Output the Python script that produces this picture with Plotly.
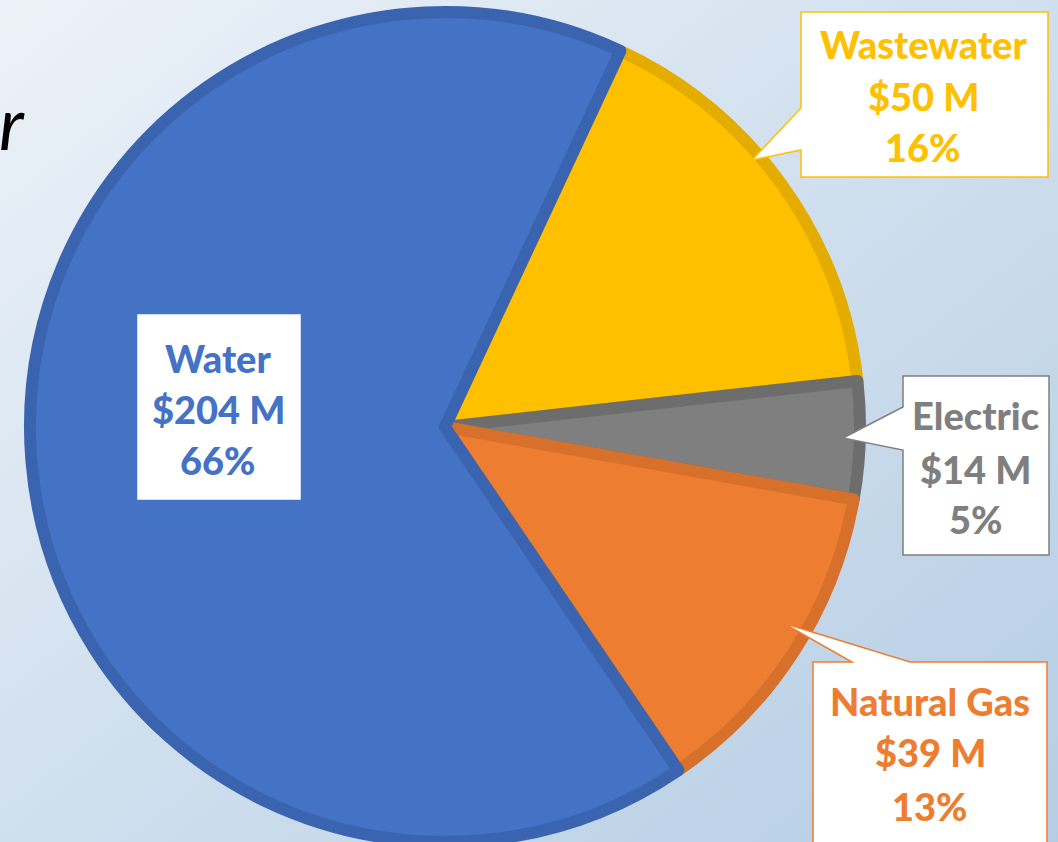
import base64
import plotly.graph_objects as go

# ---- data ----
categories = ["Wastewater", "Electric", "Natural Gas", "Water"]
values_musd = [50, 14, 39, 204]
fill_colors = ["#FFC000", "#7F7F7F", "#ED7D31", "#4472C4"]
edge_colors = ["#E5AC00", "#6D6D6D", "#D6702B", "#3B64B0"]

total = sum(values_musd)
pct_labels = [f"{round(v / total * 100)}%" for v in values_musd]
money_labels = [f"${v} M" for v in values_musd]

W, H = 1058, 842


def px(x, y):
    """pixel (from top-left) -> paper coords"""
    return x / W, 1 - y / H


def path(points):
    pts = [px(x, y) for x, y in points]
    return "M " + " L ".join(f"{a:.5f},{b:.5f}" for a, b in pts) + " Z"


# background gradient as an SVG image
svg = f"""<svg xmlns='http://www.w3.org/2000/svg' width='{W}' height='{H}'>
<defs><linearGradient id='g' x1='0' y1='0' x2='1' y2='1'>
<stop offset='0' stop-color='#ECF2F8'/><stop offset='1' stop-color='#B5CDE4'/>
</linearGradient></defs><rect width='{W}' height='{H}' fill='url(#g)'/></svg>"""
bg_src = "data:image/svg+xml;base64," + base64.b64encode(svg.encode()).decode()

# pie placement (fill radius 415, centre 445,427)
cx, cy, r = 445, 427, 415
dx0, dx1 = (cx - r) / W, (cx + r) / W
dy0, dy1 = max(0.0, 1 - (cy + r) / H), 1 - (cy - r) / H

fig = go.Figure(
    go.Pie(
        labels=categories,
        values=values_musd,
        sort=False,
        direction="clockwise",
        rotation=25,
        textinfo="none",
        hoverinfo="label+value+percent",
        marker=dict(colors=fill_colors, line=dict(color=edge_colors, width=12)),
        domain=dict(x=[dx0, dx1], y=[dy0, dy1]),
        showlegend=False,
    )
)

shapes = []
# callouts
callouts = {
    "Wastewater": [(801, 12), (1048, 12), (1048, 177), (801, 177), (801, 150), (752, 160), (801, 108)],
    "Electric": [(903, 376), (1049, 376), (1049, 555), (903, 555), (903, 450), (843, 438), (903, 407)],
    "Natural Gas": [(813, 662), (852, 662), (783, 623), (910, 662), (1047, 662), (1047, 860), (813, 860)],
    "Water": [(138, 315), (300, 315), (300, 499), (138, 499)],
}
for cat, pts in callouts.items():
    i = categories.index(cat)
    shapes.append(dict(
        type="path", xref="paper", yref="paper", path=path(pts),
        fillcolor="white",
        line=dict(color=fill_colors[i] if cat != "Water" else "white", width=1.5),
        layer="above",
    ))

text_pos = {
    "Wastewater": (923, [44, 96, 147]),
    "Electric": (975, [415, 469, 519]),
    "Natural Gas": (930, [701, 752, 806]),
    "Water": (218, [358, 409, 460]),
}
annotations = []
for cat, (tx, ys) in text_pos.items():
    i = categories.index(cat)
    lines = [cat, money_labels[i], pct_labels[i]]
    for line, ty in zip(lines, ys):
        x, y = px(tx, ty)
        annotations.append(dict(
            x=x, y=y, xref="paper", yref="paper", text=line,
            showarrow=False, xanchor="center", yanchor="middle",
            font=dict(family="Lato, Open Sans, sans-serif", size=38,
                      color=fill_colors[i], weight=900),
        ))

# cropped title fragment at the top-left
x, y = px(27, 122)
annotations.append(dict(
    x=x, y=y, xref="paper", yref="paper", text="<i>r</i>", showarrow=False,
    xanchor="right", yanchor="middle",
    font=dict(family="Lato, sans-serif", size=72, color="black"),
))

fig.update_layout(
    width=W, height=H,
    margin=dict(l=0, r=0, t=0, b=0),
    paper_bgcolor="#D6E3F0",
    plot_bgcolor="rgba(0,0,0,0)",
    images=[dict(source=bg_src, xref="paper", yref="paper", x=0, y=1,
                 sizex=1, sizey=1, sizing="stretch", layer="below")],
    shapes=shapes,
    annotations=annotations,
)

fig.write_html(
    "out.html",
    config={"displayModeBar": False},
    post_script="document.body.style.margin='0';document.body.style.overflow='hidden';",
)
